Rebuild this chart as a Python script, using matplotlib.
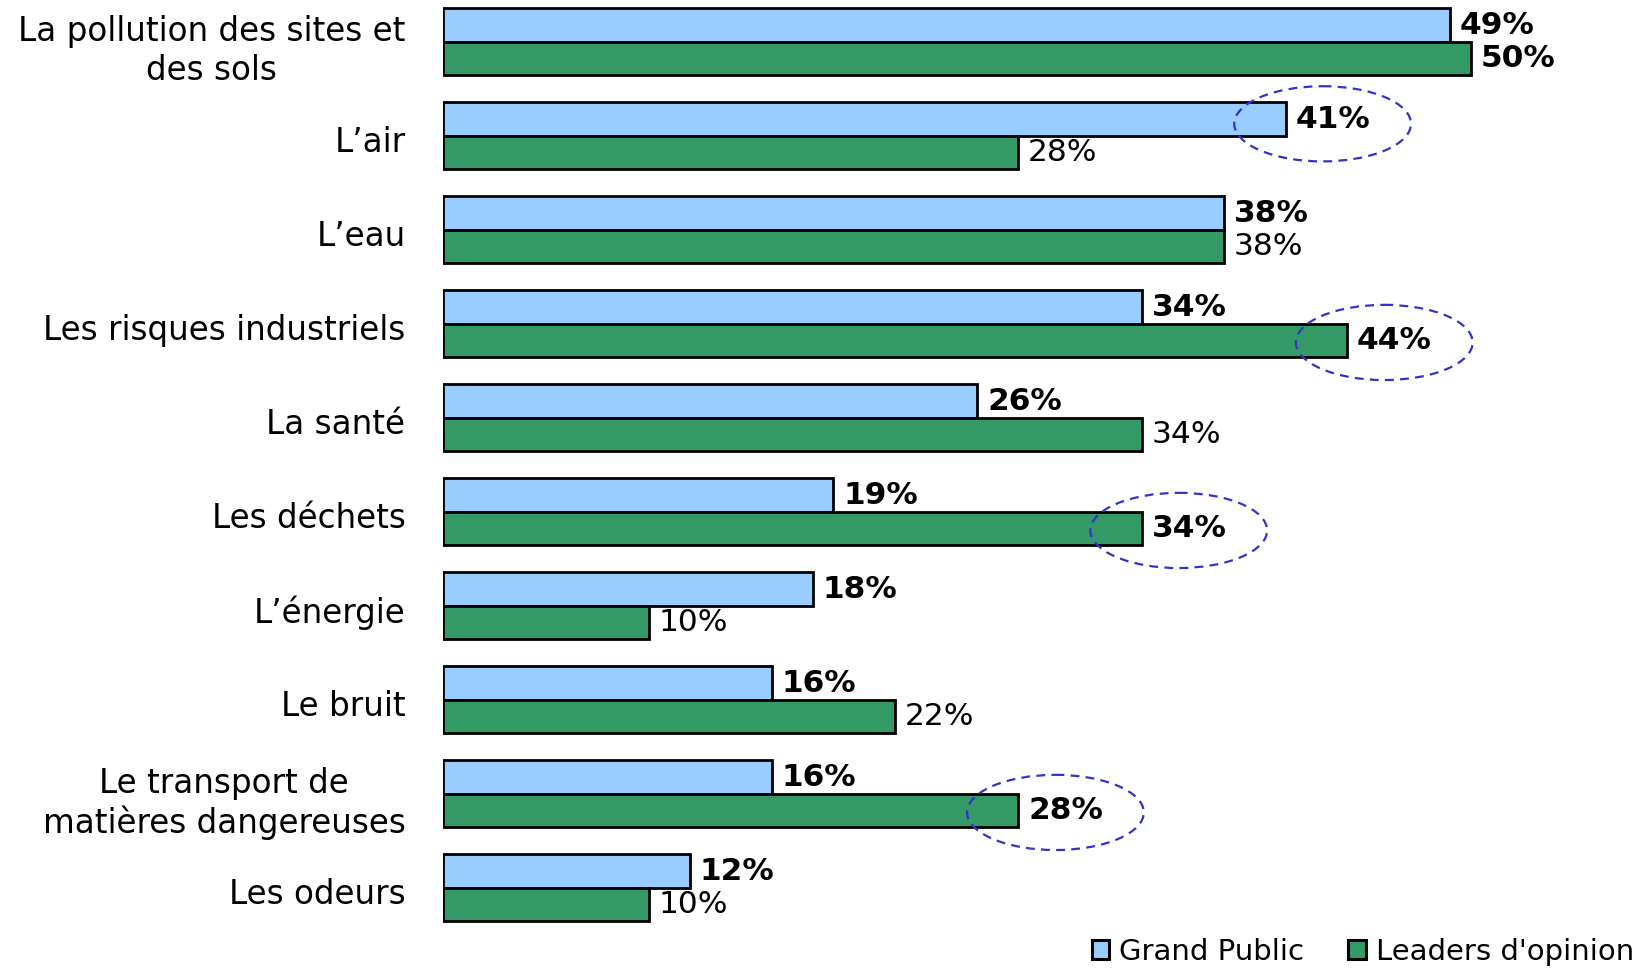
import numpy as np
import matplotlib.pyplot as plt
from matplotlib.patches import Ellipse, Patch
from matplotlib.transforms import ScaledTranslation

categories = ["La pollution des sites et\ndes sols", "L’air", "L’eau",
              "Les risques industriels", "La santé", "Les déchets", "L’énergie",
              "Le bruit", "Le transport de\nmatières dangereuses", "Les odeurs"]
grand_public = [49, 41, 38, 34, 26, 19, 18, 16, 16, 12]
leaders = [50, 28, 38, 44, 34, 34, 10, 22, 28, 10]
leaders_bold = [True, False, False, True, False, True, False, False, True, False]
circled_gp = [False, True, False, False, False, False, False, False, False, False]
circled_lo = [False, False, False, True, False, True, False, False, True, False]

c_gp = '#99CCFF'
c_lo = '#339966'
c_ring = '#3333CC'

fig = plt.figure(figsize=(16.41, 9.68), dpi=100)
ax = fig.add_axes([443 / 1641, 0, 1192 / 1641, 1])

y = np.arange(len(categories))
h = 0.356
ax.barh(y - h / 2, grand_public, height=h, color=c_gp, edgecolor='black', lw=2)
ax.barh(y + h / 2, leaders, height=h, color=c_lo, edgecolor='black', lw=2)

for i in range(len(categories)):
    ax.annotate(f"{grand_public[i]}%", (grand_public[i], y[i] - h / 2), xytext=(7, 0),
                textcoords='offset points', va='center', ha='left',
                fontsize=22.5, fontweight='bold')
    ax.annotate(f"{leaders[i]}%", (leaders[i], y[i] + h / 2), xytext=(7, 0),
                textcoords='offset points', va='center', ha='left',
                fontsize=22.5, fontweight='bold' if leaders_bold[i] else 'normal')
    if circled_gp[i]:
        ax.add_patch(Ellipse((grand_public[i] + 1.8, y[i] - h / 2 + 0.05), 8.6, 0.8,
                             fill=False, ec=c_ring, lw=1.6, ls=(0, (4, 2.8))))
    if circled_lo[i]:
        ax.add_patch(Ellipse((leaders[i] + 1.8, y[i] + h / 2 + 0.02), 8.6, 0.8,
                             fill=False, ec=c_ring, lw=1.6, ls=(0, (4, 2.8))))

ax.set_xlim(0, 58)
ax.set_ylim(9.853, -0.445)
ax.set_xticks([])
ax.set_yticks(y, categories, fontsize=23.5)
ax.tick_params(axis='y', length=0, pad=27)
shift = ScaledTranslation(0, -3 / 100, fig.dpi_scale_trans)
for lab in ax.get_yticklabels():
    lab.set_multialignment('center')
    lab.set_transform(lab.get_transform() + shift)
for s in ax.spines.values():
    s.set_visible(False)

handles = [Patch(facecolor=c_gp, edgecolor='black', lw=2.2),
           Patch(facecolor=c_lo, edgecolor='black', lw=2.2)]
fig.legend(handles, ["Grand Public", "Leaders d'opinion"], ncol=2, frameon=False,
           loc='center right', bbox_to_anchor=(1634 / 1641, 1 - 952 / 968),
           fontsize=21, handlelength=0.6, handleheight=0.6, handletextpad=0.35,
           columnspacing=1.5, borderpad=0, borderaxespad=0)

fig.savefig('out.png', dpi=100)
